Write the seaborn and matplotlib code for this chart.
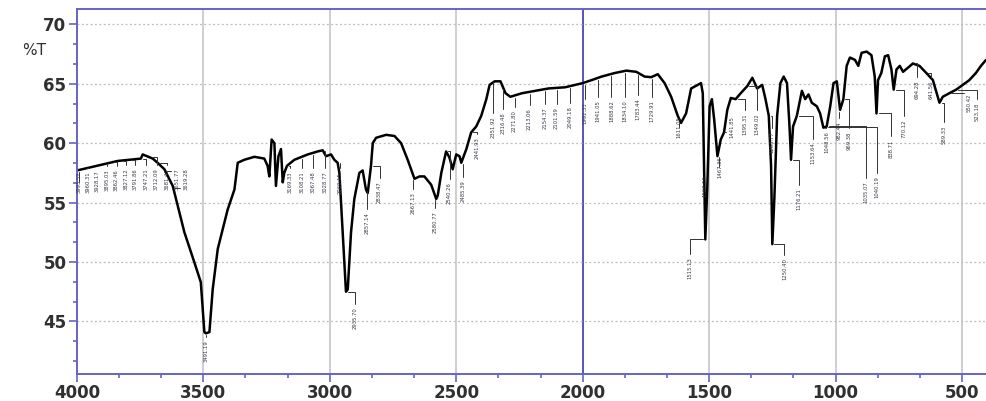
import pandas as pd
import matplotlib.pyplot as plt
import seaborn as sns
import numpy as np
from matplotlib.ticker import MultipleLocator

# espectro: número de onda (cm-1) e %T
WAVENUMBER = [4000, 3839, 3747, 3740, 3700, 3681, 3654, 3621, 3575, 3536,
              3510, 3496, 3490, 3476, 3463, 3443, 3404, 3377, 3364, 3338,
              3298, 3259, 3246, 3239, 3230, 3219, 3213, 3203, 3193, 3186,
              3180, 3169, 3140, 3087, 3048, 3028, 3015, 2995, 2982, 2969,
              2962, 2949, 2936, 2929, 2916, 2903, 2883, 2870, 2857, 2850,
              2837, 2830, 2817, 2777, 2744, 2718, 2692, 2665, 2645, 2626,
              2599, 2579, 2573, 2559, 2540, 2527, 2514, 2500, 2487, 2480,
              2460, 2441, 2421, 2401, 2381, 2368, 2348, 2325, 2305, 2286,
              2240, 2187, 2135, 2069, 2030, 2000, 1965, 1925, 1873, 1827,
              1788, 1755, 1729, 1703, 1676, 1650, 1624, 1611, 1591, 1571,
              1545, 1532, 1525, 1515, 1507, 1498, 1489, 1480, 1467, 1454,
              1441, 1428, 1414, 1395, 1375, 1349, 1329, 1310, 1290, 1277,
              1264, 1255, 1250, 1242, 1231, 1218, 1205, 1192, 1182, 1176,
              1168, 1153, 1133, 1120, 1107, 1094, 1074, 1061, 1048, 1035,
              1021, 1008, 995, 982, 969, 956, 943, 923, 910, 897,
              877, 858, 845, 838, 832, 819, 805, 792, 779, 770,
              759, 746, 733, 694, 668, 641, 615, 589, 576, 550,
              523, 497, 471, 445, 425, 405]
TRANSMITTANCE = [57.7, 58.5, 58.7, 59.05, 58.7, 58.35, 57.8, 56.4, 52.5, 50.0,
                 48.3, 44.1, 44.0, 44.1, 47.7, 51.1, 54.4, 56.1, 58.35, 58.6,
                 58.85, 58.7, 58.1, 57.2, 60.3, 60.0, 56.4, 58.9, 59.5, 56.7,
                 57.5, 58.1, 58.6, 59.05, 59.3, 59.4, 58.9, 59.05, 58.6, 58.35,
                 57.5, 52.5, 47.5, 47.7, 52.5, 55.3, 57.5, 57.7, 56.1, 55.8,
                 58.1, 60.0, 60.45, 60.7, 60.6, 60.0, 58.6, 57.0, 57.2, 57.2,
                 56.5, 55.3, 55.6, 57.5, 59.3, 58.8, 57.8, 59.05, 58.9, 58.35,
                 59.5, 60.9, 61.4, 62.3, 63.7, 64.9, 65.2, 65.2, 64.2, 63.9,
                 64.2, 64.4, 64.6, 64.7, 64.9, 65.05, 65.3, 65.6, 65.9, 66.1,
                 66.0, 65.6, 65.55, 65.8, 65.05, 63.9, 62.3, 61.7, 62.5, 64.6,
                 64.9, 65.05, 64.2, 51.9, 56.4, 63.1, 63.7, 62.0, 58.9, 60.3,
                 60.9, 62.8, 63.8, 63.7, 64.2, 64.8, 65.5, 64.6, 64.9, 63.7,
                 62.3, 58.1, 51.5, 55.3, 62.3, 65.05, 65.6, 65.05, 61.4, 58.6,
                 61.4, 62.3, 64.4, 63.7, 64.1, 63.4, 63.1, 62.5, 61.3, 61.4,
                 63.1, 65.05, 65.2, 62.8, 63.7, 66.5, 67.2, 67.0, 66.5, 67.6,
                 67.7, 67.4, 65.6, 62.5, 65.3, 65.9, 67.3, 67.4, 66.2, 64.5,
                 66.2, 66.5, 66.0, 66.7, 66.5, 65.9, 65.3, 63.4, 63.9, 64.2,
                 64.5, 64.9, 65.3, 65.9, 66.5, 67.0]

# picos marcados e seus rótulos
PEAK_WN = [3993, 3960, 3928, 3895, 3862, 3827, 3792, 3747, 3712, 3681, 3651, 3619,
           3490, 3169, 3108, 3067, 3028, 2969, 2936, 2857, 2837, 2665, 2579, 2540,
           2480, 2441, 2348, 2316, 2272, 2213, 2154, 2101, 2049, 1992, 1941, 1888,
           1834, 1783, 1729, 1611, 1515, 1507, 1467, 1441, 1395, 1349, 1264, 1250,
           1176, 1153, 1048, 982, 969, 1035, 1040, 838, 770, 694, 641, 589, 550, 523]
PEAK_TXT = ["3993.52", "3960.31", "3928.17", "3895.03", "3862.46", "3827.12",
            "3791.86", "3747.21", "3712.09", "3681.40", "3651.77", "3619.28",
            "3491.19", "3169.33", "3108.21", "3067.48", "3028.77", "2969.15",
            "2935.70", "2857.14", "2838.47", "2667.13", "2580.77", "2540.26",
            "2485.39", "2441.93", "2351.92", "2316.48", "2271.80", "2213.06",
            "2154.37", "2101.59", "2049.18", "1992.33", "1941.05", "1888.62",
            "1834.10", "1783.44", "1729.91", "1611.05", "1515.13", "1507.29",
            "1467.36", "1441.85", "1395.31", "1349.02", "1263.77", "1250.40",
            "1176.21", "1153.64", "1048.56", "982.44", "969.38", "1035.07",
            "1040.19", "838.71", "770.12", "694.28", "641.56", "589.33",
            "550.42", "523.18"]
# posição (x, topo y) de cada rótulo
LABEL_X = [3990, 3955, 3920, 3882, 3843, 3806, 3770, 3725, 3685, 3645, 3605, 3568,
           3488, 3158, 3110, 3067, 3020, 2960, 2901, 2854, 2803, 2672, 2585, 2526,
           2474, 2419, 2355, 2316, 2269, 2210, 2150, 2103, 2051, 1992, 1941, 1886,
           1834, 1783, 1727, 1621, 1577, 1518, 1459, 1411, 1360, 1309, 1251, 1202,
           1146, 1090, 1036, 985, 945, 879, 838, 779, 728, 676, 621, 570, 470, 440]
LABEL_Y = [57.6, 57.6, 57.7, 57.8, 57.8, 57.9, 57.9, 57.9, 57.9, 57.9, 57.9, 57.9,
           43.4, 57.6, 57.6, 57.6, 57.6, 57.6, 46.2, 54.2, 56.8, 55.9, 54.3, 56.7,
           56.9, 60.5, 62.3, 62.6, 62.8, 62.9, 63.0, 63.0, 63.1, 63.4, 63.6, 63.6,
           63.6, 63.8, 63.6, 62.3, 50.4, 57.3, 58.9, 62.3, 62.5, 62.5, 61.0, 50.3,
           56.2, 60.1, 61.0, 61.8, 61.0, 56.8, 57.2, 60.3, 62.0, 65.3, 65.3, 61.5,
           64.2, 63.4]

sns.set_theme(style="white")
plt.rcParams['font.family'] = ['DejaVu Sans']

SPINE = "#6464c8"
df = pd.DataFrame({"wn": WAVENUMBER, "T": TRANSMITTANCE})

fig = plt.figure(figsize=(9.86, 4.01), dpi=100)
ax = fig.add_axes([0.078, 0.068, 0.922, 0.910])

# grade
for g in [3500, 3000, 2500, 1500, 1000, 500]:
    ax.axvline(g, color="#cacaca", lw=1.3, zorder=0)
ax.axvline(2000, color="#4848b4", lw=1.3, zorder=0)
for g in [70, 65, 60, 55, 50, 45]:
    ax.axhline(g, color="#bcbcbc", lw=0.9, ls=(0, (1.5, 2)), zorder=0)

sns.lineplot(data=df, x="wn", y="T", sort=False, estimator=None,
             color="black", linewidth=1.8, ax=ax)

# rótulos dos picos
wn_r = np.array(WAVENUMBER)[::-1]
t_r = np.array(TRANSMITTANCE)[::-1]
for pk, txt, tx, ty in zip(PEAK_WN, PEAK_TXT, LABEL_X, LABEL_Y):
    py = np.interp(pk, wn_r, t_r)
    ax.annotate(txt, xy=(pk, py), xytext=(tx, ty), rotation=90,
                ha="center", va="top", fontsize=3.8, color="#3a3a4a",
                arrowprops=dict(arrowstyle="-", lw=0.7, color="#333333",
                                shrinkA=0, shrinkB=1.5,
                                connectionstyle="angle,angleA=90,angleB=0,rad=0"))

ax.set_xlim(4000, 405)
ax.set_ylim(40.6, 71.3)
ax.set_xlabel("")
ax.set_ylabel("")
ax.xaxis.set_major_locator(MultipleLocator(500))
ax.xaxis.set_minor_locator(MultipleLocator(500 / 3))
ax.yaxis.set_major_locator(MultipleLocator(5))
ax.yaxis.set_minor_locator(MultipleLocator(5 / 3))
ax.set_yticks([45, 50, 55, 60, 65, 70])

ax.tick_params(axis="both", which="major", direction="out", length=6, width=1.2,
               color=SPINE, labelsize=12, labelcolor="#303030", pad=1.5)
ax.tick_params(axis="both", which="minor", direction="out", length=3, width=1.2,
               color=SPINE)
ax.tick_params(axis="both", which="both", bottom=True, left=True)
for lab in ax.get_xticklabels() + ax.get_yticklabels():
    lab.set_fontweight("bold")

for s in ["left", "bottom", "top"]:
    ax.spines[s].set_color(SPINE)
    ax.spines[s].set_linewidth(1.4)
ax.spines["right"].set_visible(False)

fig.text(0.022, 0.875, "%T", fontsize=11, color="#303030", va="center", ha="left")

fig.savefig("out.png", dpi=100)
